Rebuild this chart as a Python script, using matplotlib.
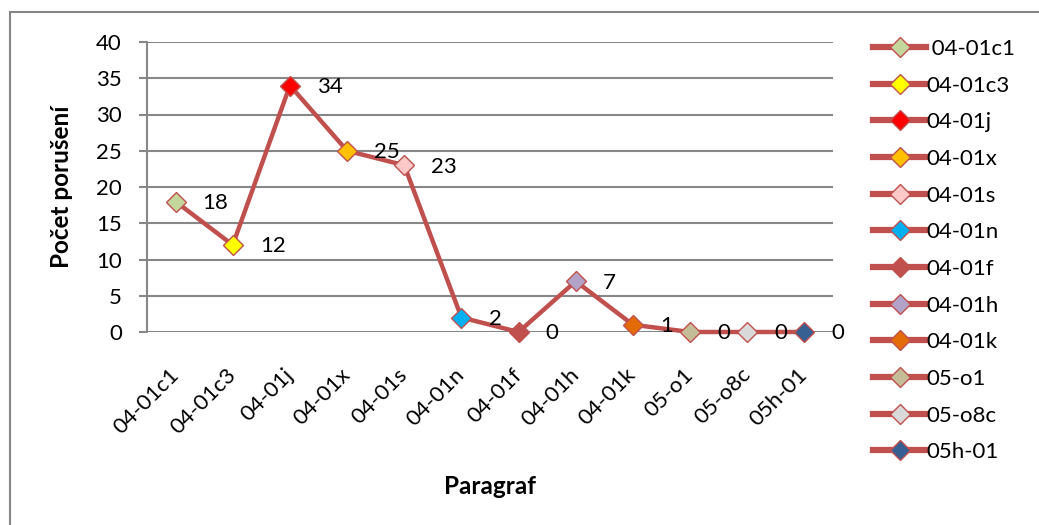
import matplotlib
matplotlib.use("Agg")
import matplotlib.pyplot as plt
from matplotlib.lines import Line2D
from matplotlib.patches import Rectangle

categories = ["04-01c1", "04-01c3", "04-01j", "04-01x", "04-01s", "04-01n",
              "04-01f", "04-01h", "04-01k", "05-o1", "05-o8c", "05h-01"]
legend_labels = [" 04-01c1"] + categories[1:]
values = [18, 12, 34, 25, 23, 2, 0, 7, 1, 0, 0, 0]
marker_colors = ["#C3D69B", "#FFFF00", "#FF0000", "#FFC000", "#FCC8C8", "#00B0F0",
                 "#C0504D", "#B3A2C7", "#E36C09", "#C4BD97", "#D9D9D9", "#376092"]
y_ticks = [0, 5, 10, 15, 20, 25, 30, 35, 40]

LINE = "#C0504D"
GRID = "#878787"
FONT = "Lato"
FS = 16
FS_T = 17.5

plt.rcParams["font.family"] = [FONT, "DejaVu Sans"]

fig = plt.figure(figsize=(10.39, 5.25), dpi=100)
W, H = 1039, 525

# outer chart frame (extends past the right and bottom edges, as in the reference)
fig.add_artist(Rectangle((10 / W, -0.1), 1.2, 1 - 12 / H + 0.1, transform=fig.transFigure,
                         fill=False, edgecolor="#868686", linewidth=1.5))

ax = fig.add_axes([147 / W, 1 - 332 / H, (833 - 147) / W, (332 - 42) / H])
x = list(range(len(categories)))

ax.plot(x, values, color=LINE, linewidth=3.2, zorder=3, solid_capstyle="round",
        clip_on=False)
for xi, v, c in zip(x, values, marker_colors):
    ax.plot([xi], [v], marker="D", markersize=10, markerfacecolor=c,
            markeredgecolor=LINE, markeredgewidth=1.0, linestyle="none", zorder=4,
            clip_on=False)
    ax.annotate(str(v), (xi, v), xytext=(19.5, -1), textcoords="offset points",
                ha="left", va="center", fontsize=FS, color="black", zorder=5,
                annotation_clip=False)

ax.set_xlim(-0.5, len(categories) - 0.5)
ax.set_ylim(0, 40)
ax.set_yticks(y_ticks)
ax.set_yticklabels([str(t) for t in y_ticks], fontsize=FS)
ax.set_xticks(x)
ax.set_xticklabels(categories, fontsize=FS, rotation=45, ha="right", va="center",
                   rotation_mode="anchor")
ax.tick_params(axis="x", length=0, pad=28.5)
ax.tick_params(axis="y", length=6, width=1.5, color=GRID, pad=12)
ax.grid(axis="y", color=GRID, linewidth=1.5, zorder=0)
for s in ["top", "right", "bottom"]:
    ax.spines[s].set_visible(False)
ax.spines["left"].set_color(GRID)
ax.spines["left"].set_linewidth(1.5)

ax.set_ylabel("Počet porušení", fontsize=FS_T, fontweight="bold", labelpad=17)
ax.set_xlabel("Paragraf", fontsize=FS_T, fontweight="bold", labelpad=27)

handles = [Line2D([0], [0], color=LINE, linewidth=4.5, marker="D", markersize=10,
                  markerfacecolor=c, markeredgecolor=LINE, markeredgewidth=1.0)
           for c in marker_colors]
fig.legend(handles, legend_labels, loc="upper left", bbox_to_anchor=(864 / W, 1 - 30 / H),
           frameon=False, fontsize=FS, handlelength=2.4, handletextpad=0.0,
           labelspacing=0.75, borderaxespad=0)

fig.savefig("out.png", dpi=100)
